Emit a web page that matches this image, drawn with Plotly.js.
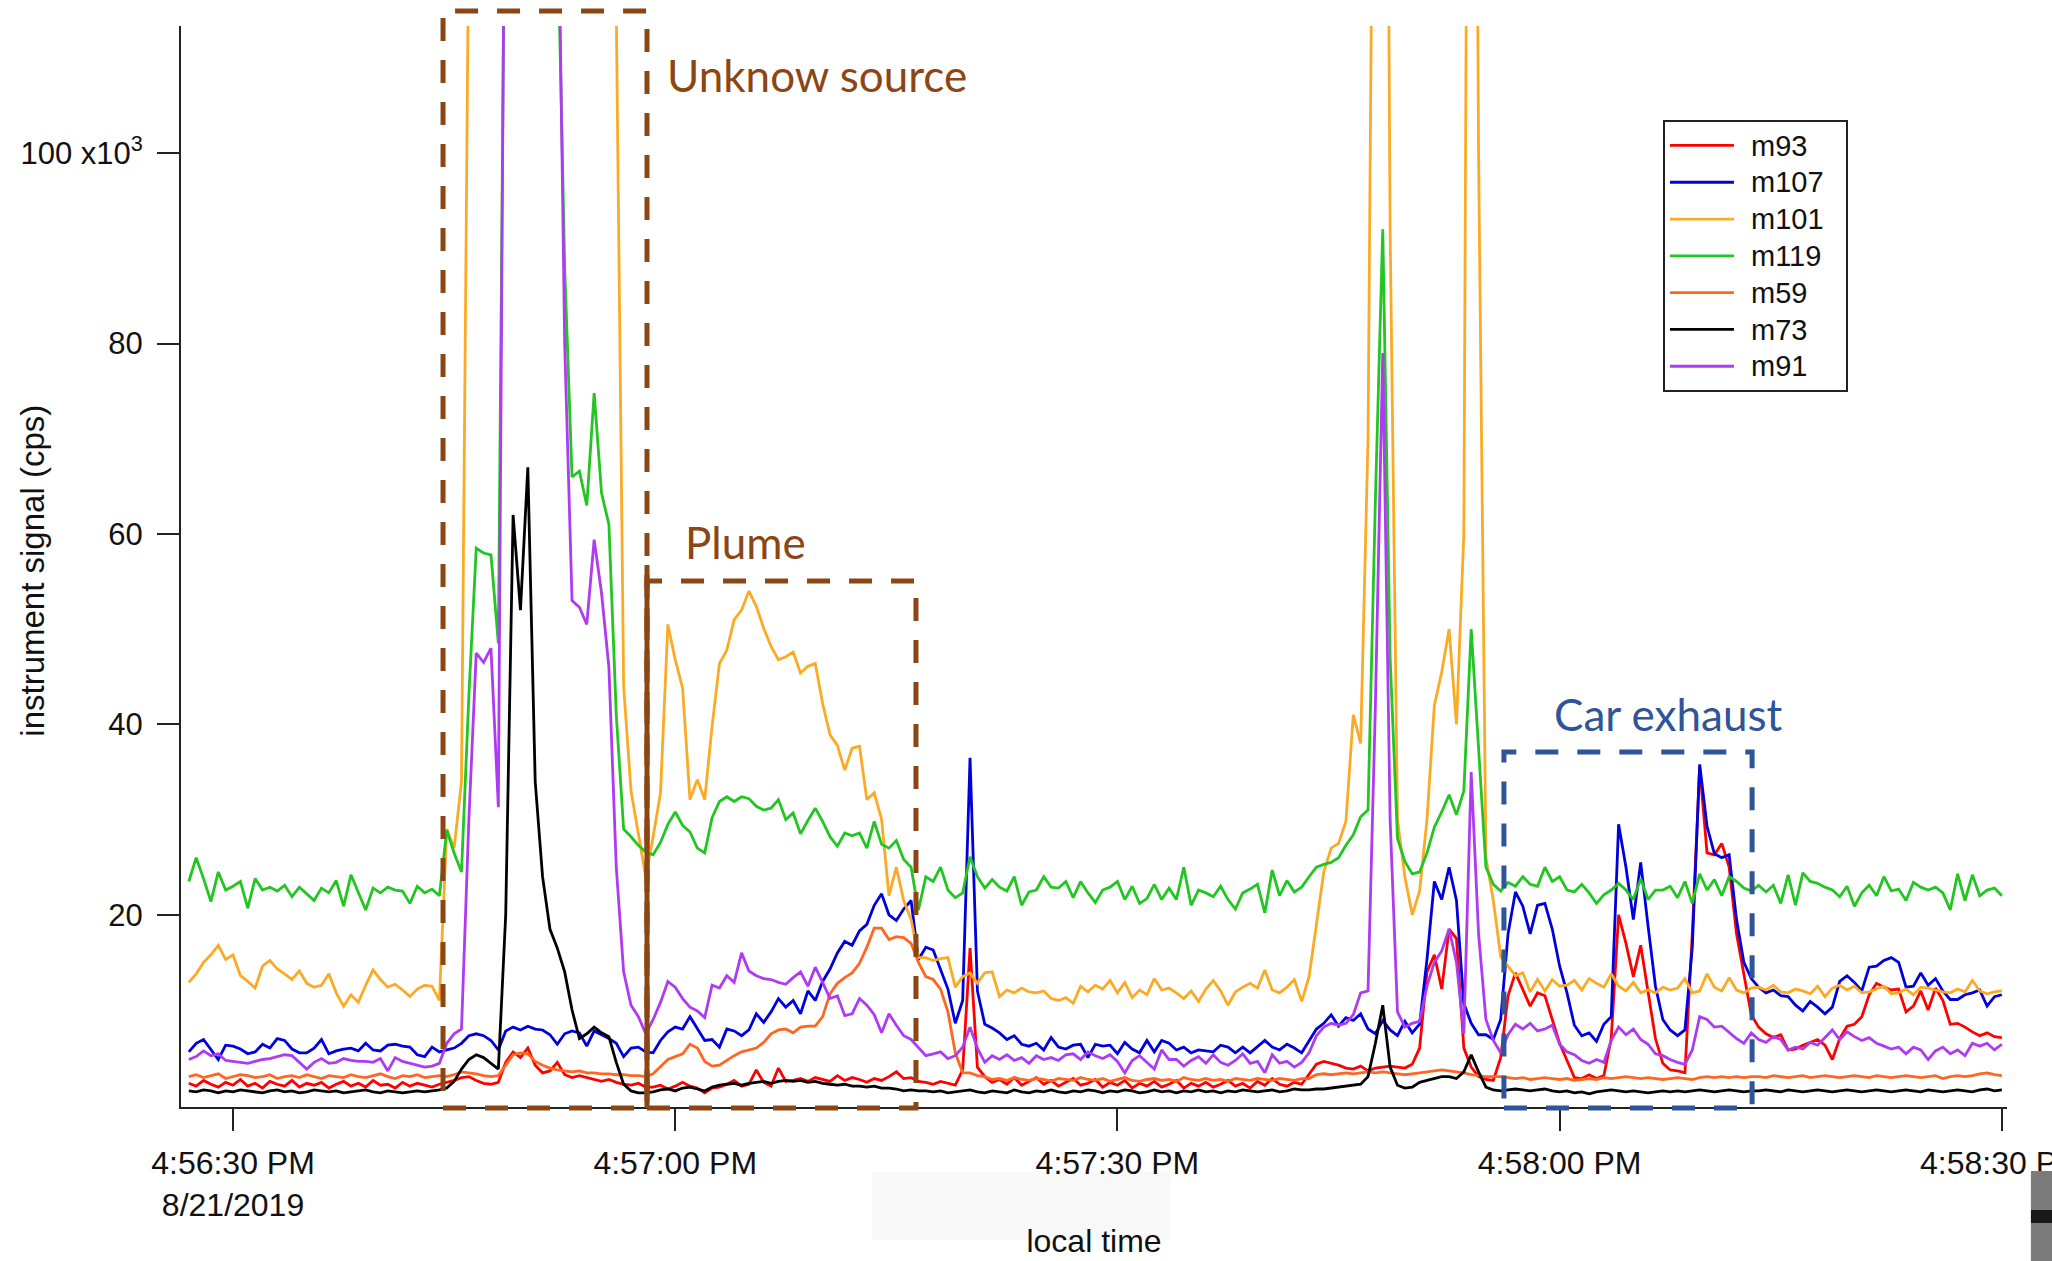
<!DOCTYPE html>
<html>
<head>
<meta charset="utf-8">
<script src="https://cdn.plot.ly/plotly-3.0.1.min.js"></script>
<style>
  html, body { margin: 0; padding: 0; background: #ffffff; }
  #chart { width: 2052px; height: 1261px; }
  /* larger legend lettering, set a little further from the line samples */
  #chart .legendtext { font-size: 29px !important; transform: translateX(12px); }
</style>
</head>
<body>
<div id="chart"></div>
<script>
// PTR-MS signals at the roadside, 8/21/2019, 4:56:27 PM - 4:58:30 PM, one sample every 0.5 s.
// Values are in thousands of counts per second (the axis is labelled "x10^3").
const sampleDate = '2019-08-21';
const firstSampleSec = 27.0;   // seconds after 16:56:00
const sampleStepSec = 0.5;

const m93 = [
  2.3,2.0,2.6,2.2,1.9,2.4,2.1,2.7,2.0,2.3,1.8,2.5,2.2,2.0,2.6,1.9,2.3,2.1,2.4,1.8,2.2,2.5,2.0,2.3,1.9,2.6,2.1,2.2,1.8,2.4,2.0,2.3,2.1,1.9,2.2,
  2.4,2.6,2.9,3.0,2.6,2.3,2.2,2.4,4.5,5.6,5.0,6.0,4.2,3.4,3.6,4.5,3.2,2.9,3.1,2.9,2.7,2.5,2.7,2.4,2.2,2.1,2.3,1.9,
  1.9,2.1,1.7,2.0,2.4,2.0,1.8,1.3,1.8,1.9,2.2,2.6,2.0,2.2,3.7,2.4,2.0,3.9,2.5,2.6,2.8,2.5,2.9,2.7,2.5,3.1,2.6,2.9,2.7,2.4,2.8,2.6,3.0,3.5,2.8,2.9,2.5,
  2.4,2.2,2.5,2.3,2.1,3.7,16.5,4.0,3.0,2.4,2.7,2.2,2.9,2.1,2.5,2.9,2.2,2.6,2.0,2.4,2.8,2.1,2.3,2.7,1.9,2.4,2.1,2.6,1.8,2.3,2.0,2.5,1.9,2.2,2.6,1.8,2.3,2.0,2.4,1.9,2.2,2.6,2.0,2.3,1.8,2.5,2.1,2.8,2.2,2.0,2.4,2.2,
  3.2,4.3,4.6,4.4,4.2,3.9,3.8,4.1,3.6,3.9,4.0,4.1,4.0,3.9,4.3,6.0,14.0,15.8,12.2,18.5,17.5,6.0,4.0,3.0,2.7,2.6,5.0,
  11.5,13.9,12.1,10.4,11.8,11.5,9.0,6.5,4.7,2.9,2.8,3.2,2.8,3.1,7.0,20.0,17.0,13.5,16.8,12.0,7.0,4.4,3.7,3.6,3.4,18.0,35.5,26.5,26.3,27.5,25.0,18.0,13.9,9.5,
  8.2,7.5,7.1,7.4,5.8,5.9,6.3,6.6,6.9,6.3,4.8,7.0,8.3,8.5,9.3,11.6,12.8,12.4,12.1,12.2,9.8,10.4,12.0,10.0,12.3,11.0,8.5,8.6,8.2,7.7,7.3,7.6,7.2,7.1
];

const m107 = [
  5.6,6.5,6.9,5.8,4.8,6.3,6.2,5.9,5.4,5.6,6.4,6.0,7.0,6.8,5.9,5.5,5.5,6.0,6.9,5.4,5.7,5.9,6.0,5.7,6.5,5.8,5.7,6.3,6.4,6.2,6.1,5.3,5.1,6.1,5.6,
  5.8,6.0,6.5,7.3,7.5,7.3,6.8,5.8,7.8,8.2,7.9,8.3,8.0,7.9,7.4,6.4,7.5,7.8,7.6,6.2,7.8,7.4,7.0,6.5,5.1,6.0,6.1,5.6,
  5.5,6.8,7.7,8.2,8.0,9.3,8.0,6.8,6.9,6.1,8.0,7.8,7.3,7.9,9.6,8.7,9.8,11.2,10.3,11.0,9.6,12.0,11.0,13.0,14.3,16.0,17.2,16.8,18.3,19.0,21.0,22.2,20.0,19.4,20.6,21.5,15.3,
  16.6,16.3,14.2,12.2,8.6,11.0,36.5,12.0,8.5,8.1,7.6,6.9,7.3,6.4,6.2,6.5,5.8,7.1,6.1,5.9,6.3,6.4,5.0,6.4,6.2,6.3,5.4,6.6,5.9,5.5,6.8,5.6,6.8,6.5,5.8,6.1,5.5,5.8,5.7,5.6,6.3,6.1,5.5,6.1,5.5,6.2,6.8,6.1,5.8,6.4,6.0,5.5,
  6.8,8.0,8.6,9.5,8.3,9.2,8.9,9.6,8.0,7.5,8.9,7.9,7.3,8.8,7.6,8.5,15.3,23.5,21.6,25.0,21.5,10.7,8.6,7.4,7.4,6.9,9.0,
  18.0,22.4,20.9,18.0,21.0,21.2,18.5,14.6,11.8,8.4,7.3,7.6,6.7,8.5,9.3,29.5,25.0,19.5,25.5,18.8,12.5,9.0,7.9,7.3,7.9,16.6,35.8,29.3,26.4,26.0,26.3,19.5,15.0,13.3,
  12.4,11.8,12.1,11.5,11.4,10.5,9.9,10.9,10.3,9.6,10.3,13.0,13.6,12.9,12.0,14.5,14.6,15.2,15.5,15.0,12.4,12.5,13.9,12.6,13.3,12.0,11.1,11.1,11.6,11.8,12.1,10.4,11.4,11.6
];

const m101 = [
  12.9,13.8,15.0,15.8,16.8,15.3,15.8,13.6,13.0,12.3,14.6,15.2,14.3,13.8,13.2,14.1,12.8,12.4,12.6,13.8,11.8,10.4,11.6,10.8,12.6,14.2,13.2,12.4,12.7,12.1,11.4,12.2,12.6,12.5,11.0,
  29.0,27.0,34.0,125,160,190,215,230,240,250,255,250,245,235,225,210,195,180,165,155,140,130,120,115,44.0,33.0,28.5,24.0,
  28.2,32.8,50.5,46.8,43.8,32.1,34.2,32.1,39.8,46.4,47.8,51.0,52.0,54.0,52.4,50.1,48.2,46.8,47.1,47.6,45.4,46.1,46.4,42.2,38.9,37.8,35.2,37.5,37.7,32.1,32.8,30.0,22.0,25.0,21.5,19.5,15.5,
  15.5,15.2,15.4,15.5,12.4,13.5,13.9,12.8,13.9,14.0,11.4,12.1,11.8,12.3,11.9,11.8,12.0,11.2,11.0,11.3,10.7,12.5,11.9,12.6,12.2,13.1,11.8,12.9,11.3,12.1,11.6,13.3,12.1,12.3,11.8,11.2,12.0,10.9,12.2,13.1,12.0,10.5,11.9,12.4,12.8,12.3,14.2,12.1,11.8,12.4,13.2,10.9,
  13.5,19.0,24.5,27.0,27.5,29.8,41.0,38.0,70,170,220,92,30.0,24.0,20.0,22.5,30.0,42.0,45.5,50.0,40.0,60.0,230,100,26.0,21.5,15.6,
  14.6,13.6,13.9,11.9,13.2,12.0,13.2,12.5,12.6,13.1,12.1,13.3,12.8,12.4,13.8,12.5,12.0,12.9,11.8,12.1,11.8,12.4,12.1,12.3,13.3,11.8,12.0,13.8,12.4,12.0,13.4,12.1,11.8,12.3,
  12.4,12.1,12.6,11.9,11.8,12.2,12.0,11.7,12.5,11.4,12.3,12.6,12.1,12.5,11.8,11.9,12.2,12.5,11.7,11.8,12.2,11.6,12.4,12.3,12.1,11.9,11.8,12.2,11.9,13.1,12.0,11.7,11.9,12.0
];

const m119 = [
  23.5,26.0,23.8,21.4,24.5,22.6,23.0,23.5,20.7,23.8,22.6,22.9,22.5,23.1,21.9,22.9,22.2,21.5,22.8,22.3,23.6,20.9,24.2,22.4,20.5,22.8,22.3,22.9,22.6,22.5,21.2,23.0,22.3,22.7,22.0,
  28.9,26.5,24.5,43.0,58.5,58.0,57.8,48.5,140,170,185,190,185,175,160,125,88,66.0,66.6,63.0,74.8,64.3,61.0,41.0,29.0,28.2,27.3,26.6,
  26.3,27.6,29.5,30.8,29.4,28.7,27.0,26.5,30.2,31.9,32.4,31.9,32.4,32.2,31.4,31.0,31.2,32.1,30.0,30.7,28.5,29.9,31.2,29.8,28.2,27.2,28.6,28.3,28.6,27.0,29.8,27.4,27.0,27.8,25.8,25.0,20.5,
  24.0,23.5,25.0,22.6,21.8,22.3,26.1,24.0,22.8,23.7,22.9,22.5,24.0,21.0,22.4,22.6,24.0,22.9,22.8,23.5,21.8,23.5,22.3,21.3,22.6,22.9,23.5,21.6,23.0,21.2,21.7,23.2,21.6,22.8,21.6,25.0,21.0,22.6,22.3,21.9,23.0,21.6,20.6,22.3,22.7,23.2,20.2,24.7,22.0,23.6,22.4,22.9,
  24.0,25.0,25.3,25.5,26.0,27.3,28.4,30.3,31.0,63.6,92.0,47.0,28.0,25.6,24.3,24.5,26.5,29.2,30.8,32.6,30.5,33.0,50.0,38.0,25.0,23.2,22.5,
  23.4,23.0,24.0,23.2,23.0,25.0,23.5,24.0,22.6,22.4,23.2,22.3,21.2,22.1,22.6,23.3,22.6,21.6,23.8,21.6,22.6,22.6,23.0,21.8,23.5,21.2,24.3,22.6,23.7,22.0,24.0,23.5,22.8,22.5,
  23.1,22.4,23.1,21.2,24.2,21.0,24.4,23.5,23.3,22.9,22.6,21.9,23.0,20.9,22.3,23.1,22.0,24.0,22.5,22.7,21.5,23.4,22.9,22.6,22.9,22.3,20.5,24.3,21.5,24.2,22.0,22.6,22.8,22.0
];

const m59 = [
  3.0,3.2,2.9,3.1,3.3,2.8,3.0,3.2,3.1,2.9,3.0,3.2,2.8,3.0,3.1,2.9,3.2,3.0,2.8,3.1,3.0,2.9,3.2,3.0,2.9,3.1,3.3,3.0,2.8,3.1,3.0,3.2,2.9,3.0,3.1,
  3.0,3.2,3.5,3.4,3.3,3.1,3.0,3.1,4.2,5.3,5.5,5.4,4.6,4.2,3.9,3.7,3.6,3.5,3.6,3.4,3.4,3.3,3.3,3.2,3.2,3.1,3.1,3.0,
  3.3,4.0,4.8,5.1,5.4,6.4,6.0,4.6,4.1,4.2,4.7,5.2,5.6,5.8,6.0,6.6,7.5,7.9,8.0,7.6,8.2,8.3,8.3,9.3,11.7,12.8,13.4,13.9,14.9,16.6,18.6,18.6,17.4,17.7,17.6,17.0,15.0,
  13.5,13.2,12.2,9.8,5.5,3.4,3.4,3.1,3.0,2.7,2.8,2.6,2.9,2.7,2.6,2.8,2.7,2.5,2.8,2.7,2.6,2.9,2.7,2.6,2.8,2.5,2.7,2.9,2.6,2.5,2.7,2.8,2.6,2.7,2.5,2.9,2.7,2.6,2.8,2.6,2.7,2.5,2.8,2.7,2.6,2.8,2.7,2.6,2.8,2.7,2.6,2.8,
  2.8,3.2,3.3,3.2,3.3,3.4,3.3,3.4,3.5,3.4,3.5,3.4,3.3,3.2,3.3,3.4,3.5,3.6,3.7,3.6,3.5,3.4,3.2,3.1,3.0,3.0,3.0,
  2.9,2.8,2.9,2.7,2.8,2.9,2.8,2.7,2.8,2.6,2.7,2.8,2.7,2.9,2.8,2.9,3.0,2.9,2.8,2.9,2.8,2.7,2.8,2.9,2.8,2.7,2.9,3.0,2.9,3.0,2.9,3.0,2.9,3.0,
  3.0,2.9,3.1,3.0,2.9,3.0,3.1,2.9,3.0,3.1,3.0,2.9,3.0,3.1,3.0,2.9,3.1,3.0,2.9,3.0,3.1,3.0,2.9,3.0,3.1,2.8,3.0,3.1,3.0,3.1,3.3,3.4,3.2,3.1
];

const m73 = [
  1.5,1.4,1.6,1.5,1.3,1.5,1.4,1.6,1.5,1.4,1.3,1.5,1.6,1.4,1.5,1.3,1.4,1.6,1.5,1.4,1.5,1.3,1.4,1.5,1.6,1.4,1.3,1.5,1.4,1.3,1.4,1.5,1.4,1.5,1.6,
  1.8,2.5,3.8,4.8,5.3,5.0,4.4,3.8,20.0,62.0,52.0,67.0,34.0,24.0,18.5,16.5,14.0,10.0,7.0,7.5,8.2,7.6,7.2,4.5,2.2,1.5,1.3,1.3,
  1.4,1.6,1.7,1.5,1.8,1.9,1.7,1.5,1.9,2.1,2.2,2.3,2.1,2.3,2.4,2.5,2.3,2.5,2.6,2.5,2.6,2.4,2.5,2.3,2.2,2.1,2.2,2.0,2.0,1.9,2.0,1.8,1.8,1.7,1.5,1.6,1.5,
  1.5,1.4,1.5,1.3,1.4,1.5,1.6,1.4,1.3,1.5,1.4,1.3,1.6,1.4,1.3,1.5,1.4,1.6,1.4,1.3,1.5,1.4,1.6,1.5,1.3,1.5,1.4,1.6,1.5,1.3,1.4,1.6,1.4,1.5,1.3,1.5,1.4,1.6,1.4,1.5,1.3,1.5,1.4,1.6,1.5,1.4,1.5,1.6,1.4,1.5,1.7,1.6,
  1.6,1.7,1.7,1.8,1.9,2.0,2.1,2.2,3.0,6.5,10.5,4.0,2.1,1.8,1.9,2.4,2.6,2.8,3.0,3.0,2.8,3.5,5.3,3.5,1.9,1.6,1.5,
  1.6,1.7,1.6,1.5,1.6,1.7,1.5,1.4,1.5,1.3,1.4,1.2,1.4,1.5,1.6,1.5,1.4,1.5,1.4,1.3,1.4,1.5,1.4,1.5,1.4,1.5,1.6,1.5,1.4,1.5,1.6,1.5,1.4,1.5,
  1.5,1.6,1.5,1.4,1.6,1.5,1.4,1.5,1.6,1.5,1.4,1.5,1.6,1.5,1.4,1.5,1.6,1.5,1.4,1.5,1.6,1.5,1.4,1.6,1.5,1.4,1.5,1.6,1.5,1.4,1.6,1.7,1.5,1.6
];

const m91 = [
  4.8,5.1,5.7,5.2,5.4,4.7,4.6,4.5,4.4,4.6,4.8,4.9,5.1,5.3,5.2,4.5,3.8,4.5,4.9,4.4,4.5,4.9,4.7,4.6,4.6,4.5,4.9,3.6,5.0,4.6,4.4,4.2,4.0,4.1,4.4,
  6.5,7.5,8.0,30.0,47.5,46.5,48.0,31.3,150,180,195,200,195,185,170,135,80,53.0,52.3,50.5,59.4,53.8,46.0,25.0,14.0,10.5,9.3,7.5,
  9.0,10.8,13.0,12.4,11.2,10.3,9.9,9.2,12.6,12.3,13.6,12.9,16.0,14.1,13.6,13.3,13.2,12.9,12.7,13.4,14.0,12.5,14.5,12.9,11.2,11.5,9.4,9.6,11.2,10.5,9.5,7.6,9.6,8.4,7.3,6.9,6.0,
  5.2,5.4,5.6,4.9,5.2,6.1,8.2,6.0,4.5,5.2,4.8,5.3,4.7,5.0,4.4,5.2,4.8,5.0,4.7,5.3,5.4,4.8,5.6,5.2,4.9,5.3,4.6,3.4,4.7,5.2,4.5,3.8,5.8,4.8,4.8,4.1,4.7,5.1,4.4,5.3,4.5,4.2,4.7,5.4,4.4,4.6,3.4,5.3,4.4,4.6,4.0,4.5,
  5.5,7.3,8.2,8.6,8.4,8.6,9.5,11.8,12.0,42.0,79.0,30.0,9.8,8.2,8.6,8.8,12.5,15.0,16.2,18.5,15.0,7.5,35.0,18.0,9.0,6.8,5.5,
  7.4,8.5,8.0,8.6,7.8,8.0,8.4,6.4,5.6,5.3,4.7,4.4,4.8,4.5,6.8,8.2,7.4,8.0,6.9,6.4,5.4,5.2,4.8,4.5,4.3,5.8,9.3,9.0,8.2,8.3,7.6,7.0,6.5,7.6,
  6.9,6.6,7.2,6.9,5.8,6.1,5.9,6.6,6.3,7.1,7.9,6.9,7.7,7.2,6.8,7.1,6.5,6.2,5.9,6.1,5.4,6.1,5.8,4.8,5.7,6.1,5.4,5.8,5.2,6.5,6.2,6.5,5.8,6.4
];

const seriesNames  = ['m93', 'm107', 'm101', 'm119', 'm59', 'm73', 'm91'];
const seriesValues = [m93, m107, m101, m119, m59, m73, m91];
const seriesColors = ['#ff0000', '#0000dc', '#fbaa26', '#22c522', '#ff6622', '#000000', '#ae3bf2'];

const tickTimes  = ['16:56:30', '16:57:00', '16:57:30', '16:58:00', '16:58:30'];
const tickLabels = ['4:56:30 PM<br>8/21/2019', '4:57:00 PM', '4:57:30 PM', '4:58:00 PM', '4:58:30 PM'];
const yTickValues = [20, 40, 60, 80, 100];
const yTickLabels = ['20', '40', '60', '80', '100 x10<sup>3</sup>'];

// time stamp for a number of seconds after 16:56:00
function stamp(sec) {
  const minute = 56 + Math.floor(sec / 60);
  const s = sec - 60 * Math.floor(sec / 60);
  return sampleDate + ' 16:' + String(minute).padStart(2, '0') + ':' + s.toFixed(2).padStart(5, '0');
}

const times = m93.map((_, i) => stamp(firstSampleSec + i * sampleStepSec));

// trailing no-break spaces leave room on the right of the legend box
const legendPad = '\u00a0'.repeat(5);

const traces = seriesNames.map((name, k) => ({
  type: 'scatter',
  mode: 'lines',
  name: name + legendPad,
  x: times,
  y: seriesValues[k],
  line: { color: seriesColors[k], width: 2.8 },
  hovertemplate: name + ': %{y}<extra></extra>'
}));

const brown = '#8c4614';
const navy = '#2f5597';
const dashPattern = '23px,19px';
const axisFont = 'Liberation Sans, Arial, Helvetica, sans-serif';
const noteFont = 'Lato, Open Sans, sans-serif';

const layout = {
  width: 2052,
  height: 1261,
  margin: { l: 181, r: 45, t: 26, b: 154 },
  paper_bgcolor: '#ffffff',
  plot_bgcolor: '#ffffff',
  font: { family: axisFont, size: 32, color: '#111111' },
  showlegend: true,
  legend: {
    x: 0.8116, y: 0.913, xanchor: 'left', yanchor: 'top',
    bgcolor: '#ffffff', bordercolor: '#222222', borderwidth: 2,
    font: { family: axisFont, size: 26, color: '#111111' },
    itemwidth: 64, traceorder: 'normal'
  },
  xaxis: {
    type: 'date',
    range: [stamp(26.47), stamp(150.35)],
    showgrid: false, zeroline: false,
    showline: true, linecolor: '#222222', linewidth: 2,
    ticks: 'outside', ticklen: 22, tickwidth: 2, tickcolor: '#222222',
    tickmode: 'array',
    tickvals: tickTimes.map(t => sampleDate + ' ' + t),
    ticktext: tickLabels,
    ticklabeloverflow: 'allow',
    ticklabelstandoff: 5,
    tickfont: { family: axisFont, size: 32, color: '#111111' },
    title: { text: 'local time', font: { family: axisFont, size: 32, color: '#111111' }, standoff: 8 }
  },
  yaxis: {
    range: [-0.19, 113.36],
    showgrid: false, zeroline: false,
    showline: true, linecolor: '#222222', linewidth: 2,
    ticks: 'outside', ticklen: 22, tickwidth: 2, tickcolor: '#222222',
    tickmode: 'array',
    tickvals: yTickValues,
    ticktext: yTickLabels,
    ticklabelstandoff: 8,
    tickfont: { family: axisFont, size: 31, color: '#111111' }
  },
  shapes: [
    // "Unknow source" window
    { type: 'rect', xref: 'paper', yref: 'paper', x0: 0.1435, x1: 0.2552, y0: -0.001, y1: 1.0139,
      line: { color: brown, width: 5, dash: dashPattern }, fillcolor: 'rgba(0,0,0,0)', layer: 'above' },
    // "Plume" window, its left side drawn solid
    { type: 'rect', xref: 'paper', yref: 'paper', x0: 0.2552, x1: 0.4025, y0: -0.001, y1: 0.4866,
      line: { color: brown, width: 5, dash: dashPattern }, fillcolor: 'rgba(0,0,0,0)', layer: 'above' },
    { type: 'line', xref: 'paper', yref: 'paper', x0: 0.2552, x1: 0.2552, y0: -0.001, y1: 0.5014,
      line: { color: brown, width: 5 }, layer: 'above' },
    // "Car exhaust" window
    { type: 'rect', xref: 'paper', yref: 'paper', x0: 0.7245, x1: 0.8604, y0: -0.001, y1: 0.3284,
      line: { color: navy, width: 5, dash: dashPattern }, fillcolor: 'rgba(0,0,0,0)', layer: 'above' },
    // pale panel behind the axis title and the strip at the right edge of the page
    { type: 'rect', xref: 'paper', yref: 'paper', x0: 0.3784, x1: 0.5416, y0: -0.123, y1: -0.06,
      line: { width: 0 }, fillcolor: '#f8f8f8', layer: 'below' },
    { type: 'rect', xref: 'paper', yref: 'paper', x0: 1.0131, x1: 1.03, y0: -0.1425, y1: -0.0592,
      line: { width: 0 }, fillcolor: '#7a7a7a', layer: 'above' },
    { type: 'rect', xref: 'paper', yref: 'paper', x0: 1.0131, x1: 1.03, y0: -0.1073, y1: -0.0953,
      line: { width: 0 }, fillcolor: '#1a1a1a', layer: 'above' }
  ],
  annotations: [
    // y-axis title, placed just right of the widest tick label's left edge
    { text: 'instrument signal (cps)', xref: 'paper', yref: 'paper', x: -0.081, y: 0.4962, showarrow: false,
      textangle: -90, xanchor: 'center', yanchor: 'middle',
      font: { family: axisFont, size: 33, color: '#111111' } },
    { text: 'Unknow source', xref: 'paper', yref: 'paper', x: 0.3483, y: 0.955, showarrow: false,
      xanchor: 'center', yanchor: 'middle', font: { family: noteFont, size: 44, color: brown } },
    { text: 'Plume', xref: 'paper', yref: 'paper', x: 0.3094, y: 0.5227, showarrow: false,
      xanchor: 'center', yanchor: 'middle', font: { family: noteFont, size: 44, color: brown } },
    { text: 'Car exhaust', xref: 'paper', yref: 'paper', x: 0.8143, y: 0.3631, showarrow: false,
      xanchor: 'center', yanchor: 'middle', font: { family: noteFont, size: 44, color: navy } }
  ]
};

Plotly.newPlot('chart', traces, layout, { displayModeBar: false, staticPlot: true });
</script>
</body>
</html>
